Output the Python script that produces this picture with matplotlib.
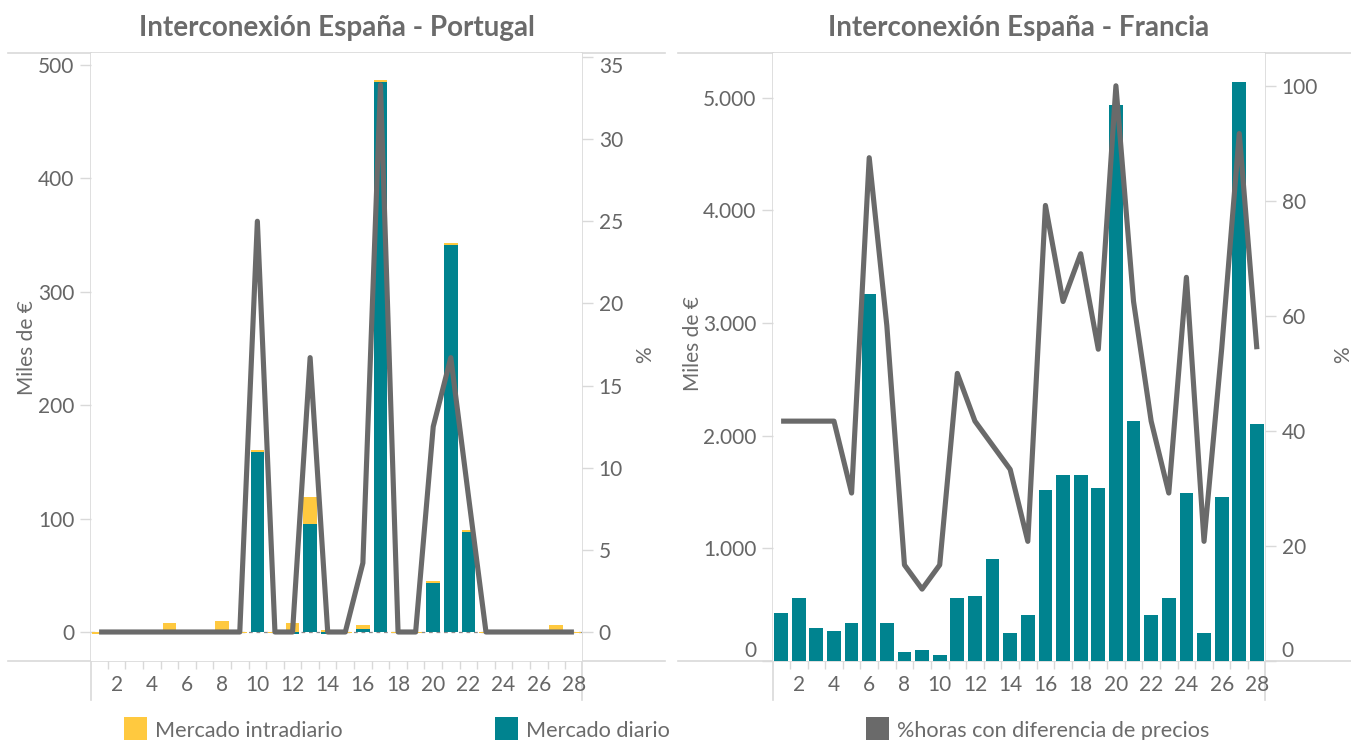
import numpy as np
import matplotlib
matplotlib.use("Agg")
import matplotlib.pyplot as plt
from matplotlib.lines import Line2D
from matplotlib.patches import Rectangle

plt.rcParams['font.family'] = ['Lato', 'DejaVu Sans']

# ---- data -------------------------------------------------------------
days = list(range(1, 29))

# Interconexión España - Portugal (miles de €, % horas)
pt_diario = [0, 0, 0, 0, 0, 0, 0, 0, 0, 158.5, 0, -2, 95, -2, 0, 2.5, 485, 0, 0,
             43, 341, 88, 0, 0, 0, 0, 0, 0]
pt_intradiario = [-1.5, 0, 0, 0, 8, 0, 0, 10, -1, 1.8, -1, 8, 24, 1.5, -1, 3.7,
                  1.8, -1, -1, 2, 2, 2, -1, 0, 0, 0, 6, -1]
pt_pct = [0, 0, 0, 0, 0, 0, 0, 0, 0, 25.0, 0, 0, 16.7, 0, 0, 4.2, 33.3, 0, 0,
          12.5, 16.7, 8.3, 0, 0, 0, 0, 0, 0]

# Interconexión España - Francia
fr_diario = [428, 559, 293, 266, 340, 3256, 340, 80, 98, 53, 559, 580, 905, 251,
             411, 1517, 1650, 1650, 1535, 4933, 2130, 411, 559, 1494, 251, 1455,
             5135, 2103]
fr_intradiario = [0] * 28
fr_pct = [41.7, 41.7, 41.7, 41.7, 29.2, 87.5, 58.3, 16.7, 12.5, 16.7, 50.0, 41.7,
          37.5, 33.3, 20.8, 79.2, 62.5, 70.8, 54.2, 100.0, 62.5, 41.7, 29.2, 66.7,
          20.8, 54.2, 91.7, 54.2]

titles = ["Interconexión España - Portugal", "Interconexión España - Francia"]
legend_labels = ["Mercado intradiario", "Mercado diario",
                 "%horas con diferencia de precios"]

# ---- style ------------------------------------------------------------
YELLOW = "#FFC93F"
TEAL = "#00838F"
LINEGRAY = "#6A6A6A"
TEXT = "#6B6B6B"
TICKTXT = "#666666"
RULE = "#D9D9D9"

W, H = 1351, 740
fig = plt.figure(figsize=(W / 100, H / 100), dpi=100)


def fx(px):
    return px / W


def fy(py):
    return 1 - py / H


def rule(x0, y0, x1, y1):
    fig.add_artist(Line2D([fx(x0), fx(x1)], [fy(y0), fy(y1)],
                          transform=fig.transFigure, color=RULE, lw=1.2,
                          zorder=0))


TOP, BOT = 53, 661


def panel(left_px, right_px, diario, intradiario, pct, ylim, yticks, ylabels,
          y2lim, y2ticks, title, ylab_pos, pct_pos, zero_line):
    ax = fig.add_axes([fx(left_px), fy(BOT), fx(right_px - left_px),
                       (BOT - TOP) / H])
    d = np.array(diario, dtype=float)
    i = np.array(intradiario, dtype=float)
    same = (np.sign(d) == np.sign(i)) & (d != 0)
    bottom = np.where(same, d, 0)
    if zero_line:
        ax.axhline(0, color="#8a8a8a", lw=0.9, ls=(0, (3, 3)), zorder=1)
    ax.bar(days, d, width=0.78, color=TEAL, zorder=2)
    ax.bar(days, i, width=0.78, bottom=bottom, color=YELLOW, zorder=2)
    ax.set_xlim(0.54, 28.46)
    ax.set_ylim(*ylim)
    ax.set_yticks(yticks)
    ax.set_yticklabels(ylabels)
    ax.set_xticks(range(2, 29, 2))
    ax.set_xticks(np.arange(1.5, 28, 1), minor=True)
    for s in ax.spines.values():
        s.set_visible(False)
    ax.tick_params(axis="y", length=8, width=1, color=RULE, labelsize=15,
                   labelcolor=TICKTXT, pad=4)
    ax.tick_params(axis="x", which="major", length=0, labelsize=15,
                   labelcolor=TICKTXT, pad=10)
    ax.tick_params(axis="x", which="minor", length=6, width=1, color=RULE)

    ax2 = ax.twinx()
    ax2.plot(days, pct, color=LINEGRAY, lw=3.7, solid_joinstyle="round",
             solid_capstyle="butt", zorder=3)
    ax2.set_ylim(*y2lim)
    ax2.set_yticks(y2ticks)
    for s in ax2.spines.values():
        s.set_visible(False)
    ax2.tick_params(axis="y", length=8, width=1, color=RULE, labelsize=15,
                    labelcolor=TICKTXT, pad=4)

    fig.text(fx((left_px + right_px) / 2), fy(28), title, ha="center",
             va="center", fontsize=20, fontweight="bold", color=TEXT)
    fig.text(fx(ylab_pos[0]), fy(ylab_pos[1]), "Miles de €", rotation=90,
             ha="center", va="center", fontsize=15, color=TEXT)
    fig.text(fx(pct_pos[0]), fy(pct_pos[1]), "%", rotation=90,
             ha="center", va="center", fontsize=15, color=TEXT)

    # frame lines around the plot area
    rule(left_px, TOP, left_px, 700)
    rule(right_px, TOP, right_px, 700)
    return ax, ax2


# Portugal
axp, axp2 = panel(91, 582, pt_diario, pt_intradiario, pt_pct,
                  (-25.57, 510.6), [0, 100, 200, 300, 400, 500],
                  ["0", "100", "200", "300", "400", "500"],
                  (-1.765, 35.24), list(range(0, 36, 5)),
                  titles[0], (27, 348), (645, 355), True)
axp2.set_yticklabels([str(v) for v in range(0, 36, 5)])
axp2.get_yticklabels()[-1].set_va("top")

# Francia
axf, axf2 = panel(773, 1265, fr_diario, fr_intradiario, fr_pct,
                  (0, 5395), [0, 1000, 2000, 3000, 4000, 5000],
                  ["0", "1.000", "2.000", "3.000", "4.000", "5.000"],
                  (0, 105.7), list(range(0, 101, 20)),
                  titles[1], (693, 344), (1343, 355), False)
axf2.set_yticklabels([str(v) for v in range(0, 101, 20)])
axf.get_yticklabels()[0].set_va("bottom")
axf2.get_yticklabels()[0].set_va("bottom")

# horizontal rules framing both panels
for x0, x1 in [(8, 665), (678, 1351)]:
    rule(x0, TOP, x1, TOP)
    rule(x0, BOT, x1, BOT)

# legend
legend_colors = [YELLOW, TEAL, LINEGRAY]
legend_x = [124, 495, 866]
for lab, col, x in zip(legend_labels, legend_colors, legend_x):
    fig.add_artist(Rectangle((fx(x), fy(740)), fx(23), 23 / H,
                             transform=fig.transFigure, color=col, lw=0))
    fig.text(fx(x + 31), fy(731), lab, ha="left", va="center", fontsize=15.6,
             color=TEXT)

fig.savefig("out.png", dpi=100)
